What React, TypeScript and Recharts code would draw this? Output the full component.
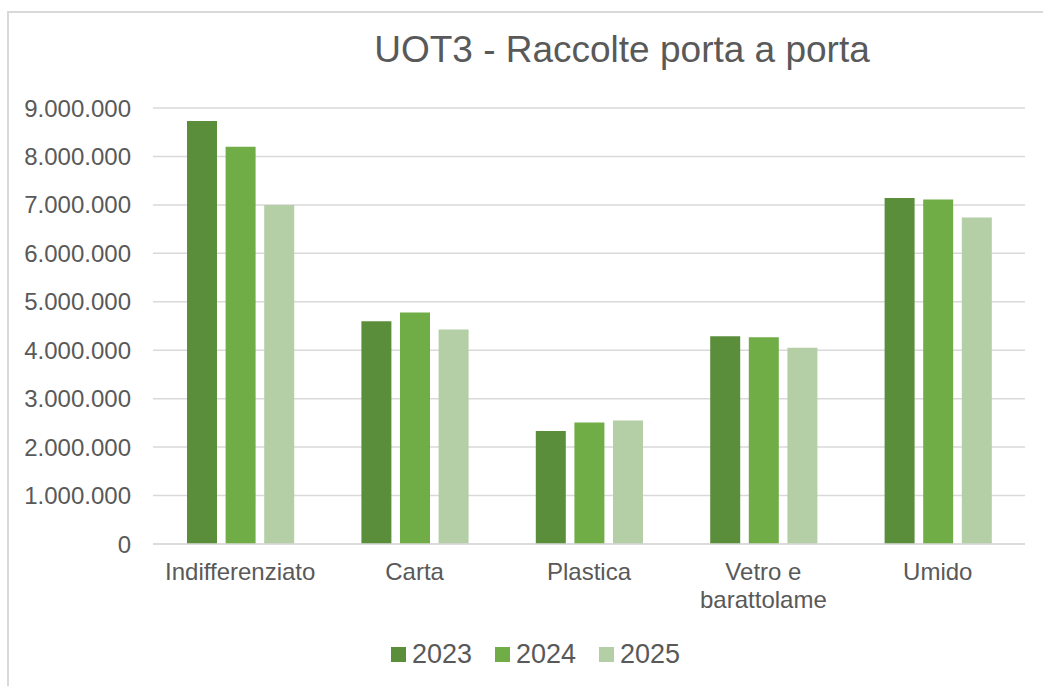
import React from "react";
import { BarChart, Bar, XAxis, YAxis, CartesianGrid, Legend } from "recharts";

const categories = ["Indifferenziato", "Carta", "Plastica", "Vetro e\nbarattolame", "Umido"];
const years = ["2023", "2024", "2025"];
const values2023 = [8730000, 4600000, 2330000, 4290000, 7140000];
const values2024 = [8200000, 4780000, 2510000, 4270000, 7110000];
const values2025 = [7000000, 4430000, 2550000, 4050000, 6740000];
const yTicks = [0, 1000000, 2000000, 3000000, 4000000, 5000000, 6000000, 7000000, 8000000, 9000000];

const colors = ["#5B8E3B", "#70AD47", "#B4CFA6"];
const TEXT = "#595959";
const GRID = "#D9D9D9";
const FONT = "'Liberation Sans', Arial, sans-serif";

const data = categories.map((name, i) => ({
  name,
  "2023": values2023[i],
  "2024": values2024[i],
  "2025": values2025[i],
}));

const fmt = (v: number) => String(v).replace(/\B(?=(\d{3})+(?!\d))/g, ".");

function CategoryTick(props: any) {
  const { x, y, payload } = props;
  const lines = String(payload.value).split("\n");
  return (
    <text x={x} y={y} textAnchor="middle" fill={TEXT} fontSize={24} fontFamily={FONT}>
      {lines.map((l, i) => (
        <tspan key={i} x={x} dy={i === 0 ? 17 : 28}>{l}</tspan>
      ))}
    </text>
  );
}

function LegendContent() {
  return (
    <div style={{ display: "flex", justifyContent: "center", alignItems: "center", gap: 23 }}>
      {years.map((y, i) => (
        <div key={y} style={{ display: "flex", alignItems: "center", gap: 6 }}>
          <div style={{ width: 15, height: 15, background: colors[i] }} />
          <span style={{ fontSize: 27, color: TEXT, fontFamily: FONT, lineHeight: "30px" }}>{y}</span>
        </div>
      ))}
    </div>
  );
}

export default function App() {
  return (
    <div style={{ position: "absolute", left: 0, top: 0, width: 1043, height: 686, overflow: "hidden", background: "#fff" }}>
      {/* chart frame, cropped on the right and bottom */}
      <div style={{ position: "absolute", left: 7, top: 11, width: 1200, height: 800, border: `2px solid ${GRID}` }} />
      <div style={{
        position: "absolute", left: 322, top: 31, width: 600, textAlign: "center",
        fontSize: 37, lineHeight: "37px", color: TEXT, fontFamily: FONT,
      }}>
        UOT3 - Raccolte porta a porta
      </div>
      <div style={{ position: "absolute", left: 0, top: 0 }}>
        <BarChart
          width={1043}
          height={686}
          data={data}
          margin={{ top: 108, right: 18, bottom: 52, left: 8 }}
          barSize={30}
          barGap={8.6}
        >
          <CartesianGrid vertical={false} stroke={GRID} strokeWidth={1.5} />
          <XAxis
            dataKey="name"
            height={60}
            stroke={GRID}
            strokeWidth={1.5}
            tickLine={false}
            tickMargin={13}
            interval={0}
            tick={<CategoryTick />}
          />
          <YAxis
            width={145}
            domain={[0, 9000000]}
            ticks={yTicks}
            axisLine={false}
            tickLine={false}
            tickMargin={16}
            tickFormatter={fmt}
            tick={{ fill: TEXT, fontSize: 24, fontFamily: FONT }}
          />
          <Legend
            verticalAlign="bottom"
            content={<LegendContent />}
            wrapperStyle={{ position: "absolute", left: 0, width: 1071, top: 639, bottom: "auto", height: 30 }}
          />
          {years.map((y, i) => (
            <Bar key={y} dataKey={y} fill={colors[i]} isAnimationActive={false} />
          ))}
        </BarChart>
      </div>
    </div>
  );
}
